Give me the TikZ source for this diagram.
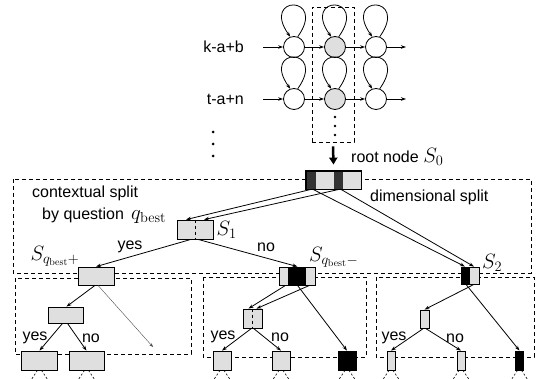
\documentclass[tikz,border=0pt]{standalone}
\usepackage[no-math]{fontspec}
\setmainfont{Liberation Sans}
\usetikzlibrary{arrows.meta, positioning, calc}

\begin{document}
\begin{tikzpicture}[
    x=1pt, y=-1pt,
    font=\fontsize{16}{19}\selectfont,
    state/.style={circle, draw, line width=0.8pt, minimum size=21pt, inner sep=0pt},
    seg/.style={rectangle, draw, line width=0.8pt, fill=gray!25, inner sep=0pt, minimum height=19pt},
    darkseg/.style={seg, fill=black},
    band/.style 2 args={path picture={\fill[black] ([xshift=#1]path picture bounding box.south west) rectangle ([xshift=#2]path picture bounding box.north west);}},
    arrow/.style={-{Stealth[length=5pt, width=3.5pt]}, line width=0.8pt},
    thinarrow/.style={-{Stealth[length=4pt, width=3pt]}, line width=0.4pt, black!70},
    bigarrow/.style={-{Triangle[length=7pt, width=8pt]}, line width=2.5pt},
    region/.style={draw, line width=0.7pt, dash pattern=on 4pt off 3pt},
    tail/.style={line width=0.6pt, dash pattern=on 2pt off 2pt},
    lbl/.style={inner sep=0pt},
    mathlbl/.style={lbl, font=\fontsize{20}{24}\selectfont}
]
\useasboundingbox (0,0) rectangle (540,379);

% HMM states
\foreach \r/\yy in {1/47, 2/99} {
  \node[state] (c\r1) at (294,\yy) {};
  \node[state, fill=gray!25] (c\r2) at (335,\yy) {};
  \node[state] (c\r3) at (376,\yy) {};
  \coordinate (in\r) at (263,\yy);
  \coordinate (out\r) at (406,\yy);
  \draw[arrow] (in\r) -- (c\r1);
  \draw[arrow] (c\r1) -- (c\r2);
  \draw[arrow] (c\r2) -- (c\r3);
  \draw[arrow] (c\r3) -- (out\r);
  \foreach \c in {1,2,3}
    \draw[arrow] (c\r\c.70) .. controls +(30,-42) and +(-30,-42) .. (c\r\c.110);
}
\node[lbl, anchor=east] (lab1) at (244,47) {k-a+b};
\node[lbl, anchor=east] (lab2) at (244,99) {t-a+n};
\foreach \yy in {132,144,156} \fill (213,\yy) circle (1.5pt);
\foreach \yy in {117,126,135} \fill (335,\yy) circle (1.3pt);

% Spalte
\node[region, minimum width=42pt, minimum height=135pt] (colbox) at (333,74.5) {};

% Regionen
\draw[region] (13,179) rectangle (531,273);
\draw[region] (15,278) rectangle (191,354);
\draw[region] (203,277) rectangle (366,357);
\draw[region] (376,277) rectangle (534,357);

% Wurzel
\node[seg, minimum width=55pt, minimum height=18pt, path picture={
    \fill[black!80] (path picture bounding box.south west) rectangle ([xshift=10pt]path picture bounding box.north west);
    \fill[black!80] ([xshift=28pt]path picture bounding box.south west) rectangle ([xshift=37pt]path picture bounding box.north west);}] (root) at (333.5,180) {};
\draw[line width=0.8pt] (root.south west) rectangle (root.north east);
\draw[bigarrow] ([yshift=-4pt]colbox.south) -- ([yshift=6pt]root.north);
\node[lbl, anchor=west] (rootlab) at (351,157) {root node \fontsize{20}{24}\selectfont$S_0$};

% Ebene 1
\node[seg, minimum width=36pt] (S1) at (195,229.5) {};
\draw[dashed, line width=0.6pt] (S1.north) -- (S1.south);
\node[seg, minimum width=36pt, minimum height=18pt] (Sqp) at (96,276) {};
\node[seg, minimum width=36pt, minimum height=18pt, band={8pt}{26pt}] (Sqm) at (297.5,276) {};
\node[seg, minimum width=18pt, minimum height=17pt, band={0pt}{9pt}] (S2) at (470,275.5) {};

\node[lbl, anchor=west] at (32,193) {contextual split};
\node[lbl, anchor=west] at (42,216) {by question \,\fontsize{20}{24}\selectfont$q_{\mathrm{best}}$};
\node[lbl, anchor=west] at (370,197) {dimensional split};
\node[mathlbl, right=3pt of S1] {$S_1$};
\node[mathlbl] at (55,256) {$S_{q_{\mathrm{best}}+}$};
\node[mathlbl, anchor=west] at (309,257) {$S_{q_{\mathrm{best}}-}$};
\node[mathlbl, anchor=west] at (482,263) {$S_2$};

% Ebene 2
\node[seg, minimum width=35pt, minimum height=16pt] (A) at (65.5,315) {};
\node[seg, minimum width=19pt] (B) at (252.5,318.5) {};
\draw[dashed, line width=0.6pt] (B.north) -- (B.south);
\node[seg, minimum width=9pt, minimum height=18pt] (D) at (424.5,319) {};
\coordinate (open) at (153,347);

% Blaetter
\node[seg, minimum width=36pt] (AA) at (39.5,360.5) {};
\node[seg, minimum width=35pt] (AB) at (86.5,360.5) {};
\node[seg, minimum width=18pt] (BA) at (222,360.5) {};
\node[seg, minimum width=18pt] (BB) at (281,360.5) {};
\node[darkseg, minimum width=18pt] (C) at (347,360.5) {};
\node[seg, minimum width=8pt] (DA) at (391,360.5) {};
\node[seg, minimum width=8pt] (DB) at (461,360.5) {};
\node[darkseg, minimum width=8pt] (E) at (519.5,360.5) {};
\foreach \n in {AA,AB,BA,BB,C,DA,DB,E} {
  \draw[tail] ([xshift=-2pt]\n.south) -- ++(-6,9);
  \draw[tail] ([xshift=2pt]\n.south) -- ++(6,9);
}

% Pfeile von der Wurzel
\draw[arrow] ([xshift=-22.5pt]root.south) -- ([xshift=-9pt]S1.north);
\draw[arrow] ([xshift=5.5pt]root.south) -- ([xshift=9pt]S1.north);
\draw[arrow] ([xshift=-20.5pt]root.south) -- ([xshift=-5pt]S2.north);
\draw[arrow] ([xshift=7.5pt]root.south) -- ([xshift=4pt]S2.north);

% Pfeile Ebene 1
\draw[arrow] ([xshift=-4pt]S1.south) -- (Sqp.north);
\draw[arrow] ([xshift=3pt]S1.south) -- (Sqm.north);
\node[lbl] at (130,247) {yes};
\node[lbl] at (266,247) {no};

% Pfeile Ebene 2
\draw[arrow] ([xshift=-1pt]Sqp.south) -- ([xshift=1pt]A.north);
\draw[thinarrow] ([xshift=2pt]Sqp.south) -- (open);
\draw[arrow] ([xshift=-12pt]Sqm.south) -- ([xshift=-4pt]B.north);
\draw[arrow] ([xshift=12pt]Sqm.south) -- ([xshift=4pt]B.north);
\draw[arrow] (Sqm.south) -- (C.north);
\draw[arrow] ([xshift=4pt]S2.south) -- (D.north);
\draw[arrow] ([xshift=-4pt]S2.south) -- (E.north);

% Pfeile zu den Blaettern
\draw[arrow] ([xshift=-3pt]A.south) -- (AA.north);
\draw[arrow] ([xshift=2pt]A.south) -- (AB.north);
\draw[arrow] ([xshift=-1pt]B.south) -- (BA.north);
\draw[arrow] ([xshift=1pt]B.south) -- (BB.north);
\draw[arrow] ([xshift=-1pt]D.south) -- (DA.north);
\draw[arrow] ([xshift=1pt]D.south) -- (DB.north);
\node[lbl] at (35,338) {yes};
\node[lbl] at (91,338) {no};
\node[lbl] at (223,337) {yes};
\node[lbl] at (280,337) {no};
\node[lbl] at (394,338) {yes};
\node[lbl] at (455,338) {no};

\end{tikzpicture}
\end{document}
